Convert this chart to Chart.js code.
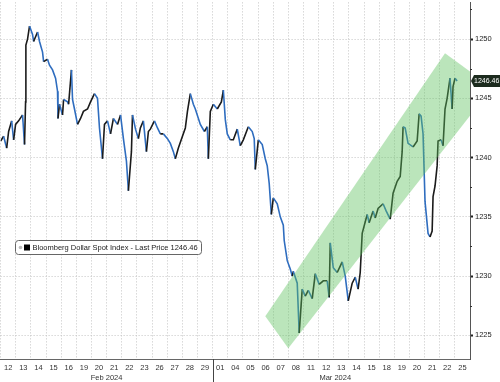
<!DOCTYPE html>
<html><head><meta charset="utf-8">
<script src="https://cdn.jsdelivr.net/npm/chart.js@4"></script>
<style>html,body{margin:0;padding:0;background:#fff;overflow:hidden}#wrap{width:500px;height:382px;position:relative}</style>
</head><body><div id="wrap"><canvas id="c" width="500" height="382"></canvas></div>
<script>
const dayLabels = ['12','13','14','15','16','19','20','21','22','23','26','27','28','29','01','04','05','06','07','08','11','12','13','14','15','18','19','20','21','22','25'];
const monthLabels = ['Feb 2024', 'Mar 2024'];
const monthCenters = [7, 22.1];
const monthBreaks = [14];
const yTicks = [1225, 1230, 1235, 1240, 1245, 1250];
const yMinorTicks = [1227.5, 1232.5, 1237.5, 1242.5, 1247.5, 1252.5];
const seriesName = 'Bloomberg Dollar Spot Index - Last Price 1246.46';
const lastPrice = 1246.46;

// trading-day position (slot units from Feb 12) and index level
const seriesT = [0.00,0.20,0.40,0.53,0.73,0.86,0.99,1.19,1.45,1.58,
1.65,1.67,1.78,1.91,2.11,2.18,2.44,2.57,2.77,2.84,
3.10,3.23,3.43,3.63,3.76,3.79,3.89,4.09,4.16,4.42,
4.49,4.68,4.75,4.88,5.08,5.28,5.47,5.74,5.94,6.20,
6.40,6.53,6.73,6.86,7.06,7.26,7.45,7.72,7.92,8.11,
8.31,8.44,8.64,8.71,8.91,9.10,9.23,9.43,9.63,9.76,
9.89,10.16,10.36,10.55,10.75,11.02,11.21,11.41,11.54,11.74,
12.01,12.20,12.34,12.53,12.73,12.86,13.19,13.46,13.65,13.72,
13.85,14.05,14.31,14.58,14.71,14.84,14.97,15.17,15.37,15.63,
15.83,16.03,16.36,16.62,16.75,16.82,17.02,17.28,17.48,17.61,
17.74,17.88,18.01,18.27,18.47,18.67,18.73,18.93,19.13,19.26,
19.33,19.59,19.72,19.92,20.12,20.32,20.58,20.78,21.04,21.31,
21.57,21.70,21.77,21.97,22.23,22.56,22.76,22.96,23.22,23.42,
23.61,23.75,23.88,24.21,24.34,24.60,24.74,24.93,25.26,25.46,
25.73,25.92,26.19,26.39,26.52,26.58,26.72,26.91,27.24,27.51,
27.64,27.77,27.90,28.03,28.23,28.36,28.50,28.56,28.69,28.83,
28.89,29.09,29.22,29.35,29.49,29.68,29.82,29.88,30.01,30.15];
const seriesV = [1241.4,1241.8,1240.8,1242.2,1243.1,1241.5,1242.8,1243.1,1243.6,1241.1,
1244.7,1249.5,1250.0,1251.1,1250.4,1249.8,1250.6,1249.8,1248.9,1248.1,
1248.3,1247.8,1247.4,1246.7,1245.6,1243.3,1244.5,1243.6,1244.9,1244.7,
1244.5,1247.4,1244.9,1244.1,1242.8,1243.3,1243.9,1244.1,1244.7,1245.4,
1245.0,1242.5,1239.9,1242.8,1243.1,1242.0,1243.3,1242.8,1243.6,1241.6,
1239.7,1237.2,1240.5,1243.6,1242.4,1241.6,1242.5,1243.1,1240.5,1242.2,
1242.4,1243.1,1242.5,1242.0,1242.0,1241.6,1241.2,1240.5,1239.9,1240.8,
1241.8,1242.5,1243.9,1245.4,1244.5,1244.1,1242.8,1242.2,1242.6,1239.9,
1243.9,1244.5,1244.1,1244.7,1245.7,1243.2,1242.0,1241.5,1241.5,1242.4,
1241.0,1241.5,1242.6,1242.2,1241.6,1239.0,1241.5,1241.1,1239.9,1239.3,
1237.8,1235.2,1236.6,1236.1,1235.0,1234.3,1233.0,1231.3,1230.6,1230.0,
1230.4,1229.4,1225.2,1228.9,1228.3,1228.8,1228.1,1230.2,1229.3,1229.6,
1229.6,1228.2,1232.8,1230.7,1230.3,1231.2,1230.0,1227.9,1229.4,1229.9,
1228.9,1230.3,1233.6,1235.2,1234.5,1235.5,1234.9,1235.7,1236.1,1235.5,
1234.8,1237.0,1238.0,1238.4,1240.5,1242.6,1242.5,1241.2,1240.9,1241.4,
1243.7,1243.5,1242.0,1236.3,1233.6,1233.3,1233.8,1236.7,1237.6,1239.3,
1241.4,1241.5,1241.0,1244.1,1245.0,1246.7,1244.1,1246.0,1246.7,1246.46];

// rising channel corners (slot position, index level)
const channelT = [17.48, 29.35, 32.45, 19.0];
const channelV = [1226.6, 1248.8, 1245.9, 1223.9];

const FONT = "'Liberation Sans', Arial, sans-serif";
const points = seriesT.map((t, i) => ({x: t, y: seriesV[i]}));
const chan = channelT.map((t, i) => ({x: t, y: channelV[i]}));
chan.push({x: channelT[0], y: channelV[0]});

const overlay = {
  id: 'overlay',
  afterDraw(chart) {
    const ctx = chart.ctx, ca = chart.chartArea;
    const xs = chart.scales.xl, ys = chart.scales.y;
    ctx.save();
    ctx.strokeStyle = '#333'; ctx.lineWidth = 1;
    yMinorTicks.forEach(v => {
      const y = Math.round(ys.getPixelForValue(v)) + 0.5;
      if (y < ca.top || y > ca.bottom) return;
      ctx.beginPath(); ctx.moveTo(ca.right, y); ctx.lineTo(ca.right + 2, y); ctx.stroke();
    });
    ctx.strokeStyle = '#444';
    monthBreaks.forEach(t => {
      const x = Math.round(xs.getPixelForValue(t)) + 0.5;
      ctx.beginPath(); ctx.moveTo(x, ca.bottom); ctx.lineTo(x, chart.height); ctx.stroke();
    });
    ctx.fillStyle = '#333'; ctx.font = '7.5px ' + FONT; ctx.textAlign = 'center'; ctx.textBaseline = 'middle';
    monthLabels.forEach((m, i) => ctx.fillText(m, xs.getPixelForValue(monthCenters[i]), ca.bottom + 19));
    const py = ys.getPixelForValue(lastPrice);
    ctx.fillStyle = '#1c2b1e';
    ctx.beginPath();
    ctx.moveTo(ca.right + 1, py); ctx.lineTo(ca.right + 4, py - 6); ctx.lineTo(chart.width, py - 6);
    ctx.lineTo(chart.width, py + 6); ctx.lineTo(ca.right + 4, py + 6); ctx.closePath(); ctx.fill();
    ctx.fillStyle = '#fff'; ctx.textAlign = 'left'; ctx.font = '7px ' + FONT;
    ctx.fillText(lastPrice.toFixed(2), ca.right + 4, py + 0.5);
    const bx = 15.5, by = 240.5, bw = 186, bh = 14;
    ctx.fillStyle = '#fff'; ctx.strokeStyle = '#666'; ctx.lineWidth = 1;
    ctx.beginPath();
    if (ctx.roundRect) ctx.roundRect(bx, by, bw, bh, 3); else ctx.rect(bx, by, bw, bh);
    ctx.fill(); ctx.stroke();
    ctx.fillStyle = '#bbb'; ctx.beginPath(); ctx.arc(bx + 5, by + 7, 1.8, 0, Math.PI * 2); ctx.fill();
    ctx.fillStyle = '#000'; ctx.fillRect(bx + 8.5, by + 4, 6, 6);
    ctx.fillStyle = '#222'; ctx.font = '7.5px ' + FONT; ctx.textAlign = 'left'; ctx.textBaseline = 'middle';
    ctx.fillText(seriesName, bx + 17, by + 7.5);
    ctx.restore();
  }
};

new Chart(document.getElementById('c'), {
  type: 'line',
  data: {
    labels: dayLabels,
    datasets: [
      {data: chan, xAxisID: 'xl', yAxisID: 'y', borderWidth: 0, pointRadius: 0, fill: 'shape',
       backgroundColor: 'rgba(92,192,92,0.42)', borderColor: 'rgba(0,0,0,0)', clip: false, tension: 0},
      {data: points, xAxisID: 'xl', yAxisID: 'y', borderWidth: 1.6, pointRadius: 0, fill: false, tension: 0,
       borderColor: '#1b1b1b',
       segment: {borderColor: c => c.p1.parsed.y < c.p0.parsed.y ? '#2f6dbf' : '#1b1b1b'}}
    ]
  },
  options: {
    responsive: false, animation: false, events: [],
    layout: {padding: 0},
    plugins: {legend: {display: false}, tooltip: {enabled: false}},
    scales: {
      x: {type: 'category', position: 'bottom', offset: true,
          grid: {offset: true, color: '#c4c4c4', lineWidth: 1, drawTicks: false},
          border: {display: true, color: '#666', width: 1, dash: [1, 2]},
          ticks: {font: {family: FONT, size: 7.5}, color: '#333', padding: 4, autoSkip: false, maxRotation: 0},
          afterFit: s => { s.height = 23; }},
      xl: {type: 'linear', display: false, min: 0, max: 31},
      y: {type: 'linear', position: 'right', min: 1223, max: 1253.1,
          afterBuildTicks: s => { s.ticks = yTicks.map(v => ({value: v})); },
          ticks: {font: {family: FONT, size: 7.5, lineHeight: 0.1}, color: '#222', padding: 2, callback: v => String(v)},
          grid: {color: '#c4c4c4', lineWidth: 1, tickColor: '#222', tickLength: 3, tickWidth: 2},
          border: {display: true, color: '#555', width: 1, dash: [1, 2]},
          afterFit: s => { s.width = 30; }}
    }
  },
  plugins: [overlay]
});
</script></body></html>
